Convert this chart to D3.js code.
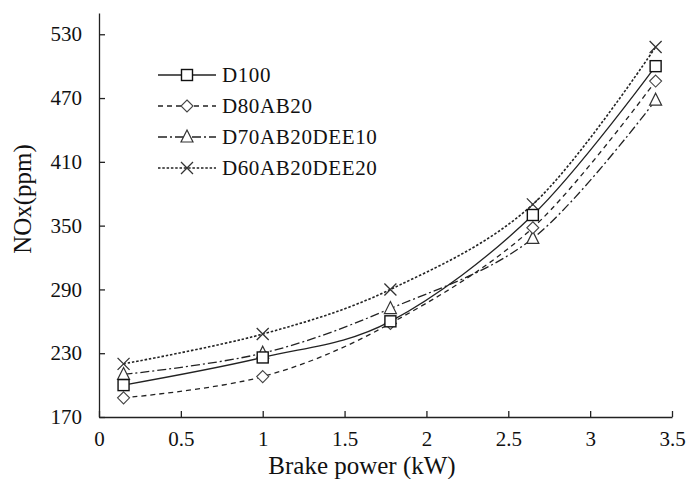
<!DOCTYPE html>
<html>
<head>
<meta charset="utf-8">
<script src="https://cdn.jsdelivr.net/npm/d3@7"></script>
<style>
  body { margin: 0; background: #fff; }
  text { font-family: "Liberation Serif", "Times New Roman", serif; fill: #111; }
</style>
</head>
<body>
<svg class="chart"></svg>
<script>
// brake power points (kW)
var power = [0.15, 1.0, 1.78, 2.65, 3.4];

// NOx (ppm) per blend
var d100 = [200, 226, 260, 360, 500];
var d80ab20 = [188, 208, 258, 348, 486];
var d70ab20dee10 = [210, 230, 272, 338, 468];
var d60ab20dee20 = [220, 248, 290, 370, 518];

var xTicks = [0, 0.5, 1, 1.5, 2, 2.5, 3, 3.5];
var yTicks = [170, 230, 290, 350, 410, 470, 530];

var series = [
  {name: "D100", values: d100, dash: null, marker: "square"},
  {name: "D80AB20", values: d80ab20, dash: "5,4", marker: "diamond"},
  {name: "D70AB20DEE10", values: d70ab20dee10, dash: "9,3,2,3", marker: "triangle"},
  {name: "D60AB20DEE20", values: d60ab20dee20, dash: "2.5,1.8", marker: "cross"}
];

var width = 688, height = 479;
var margin = {top: 13, right: 16, bottom: 62, left: 99};

var x = d3.scaleLinear()
    .domain([0, 3.5])
    .range([margin.left, width - margin.right]);

var y = d3.scaleLinear()
    .domain([170, 550])
    .range([height - margin.bottom, margin.top]);

var chart = d3.select(".chart")
    .attr("width", width)
    .attr("height", height);

// axes with inside ticks
chart.append("g")
    .attr("transform", "translate(0," + y(170) + ")")
    .call(d3.axisBottom(x).tickValues(xTicks).tickSize(-6).tickSizeOuter(0).tickPadding(14)
      .tickFormat(d => d))
    .call(g => g.selectAll("text").style("font-size", "21px"))
    .call(g => g.selectAll("line, path").attr("stroke", "#222").attr("stroke-width", 1.3));

chart.append("g")
    .attr("transform", "translate(" + x(0) + ",0)")
    .call(d3.axisLeft(y).tickValues(yTicks).tickSize(-6).tickSizeOuter(0).tickPadding(17))
    .call(g => g.selectAll("text").style("font-size", "21px"))
    .call(g => g.selectAll("line, path").attr("stroke", "#222").attr("stroke-width", 1.3));

chart.append("text")
    .attr("x", 362)
    .attr("y", 474)
    .attr("text-anchor", "middle")
    .style("font-size", "25px")
    .text("Brake power (kW)");

chart.append("text")
    .attr("transform", "translate(31,199) rotate(-90)")
    .attr("text-anchor", "middle")
    .style("font-size", "25px")
    .text("NOx(ppm)");

var line = d3.line()
    .x((d, i) => x(power[i]))
    .y(d => y(d))
    .curve(d3.curveCatmullRom.alpha(0));

function drawMarker(g, type, cx, cy) {
  var s = 5.5;
  if (type == "square") {
    g.append("rect").attr("x", cx - s).attr("y", cy - s).attr("width", 2 * s).attr("height", 2 * s)
      .attr("fill", "#fff").attr("stroke", "#111").attr("stroke-width", 1.4);
  } else if (type == "diamond") {
    g.append("path").attr("d", "M" + cx + "," + (cy - 6) + "L" + (cx + 6) + "," + cy + "L" + cx + "," + (cy + 6) + "L" + (cx - 6) + "," + cy + "Z")
      .attr("fill", "#fff").attr("stroke", "#444").attr("stroke-width", 1.1);
  } else if (type == "triangle") {
    g.append("path").attr("d", "M" + cx + "," + (cy - 7) + "L" + (cx + 6) + "," + (cy + 5) + "L" + (cx - 6) + "," + (cy + 5) + "Z")
      .attr("fill", "#fff").attr("stroke", "#333").attr("stroke-width", 1.2);
  } else {
    g.append("path").attr("d", "M" + (cx - 6) + "," + (cy - 6) + "L" + (cx + 6) + "," + (cy + 6) + "M" + (cx + 6) + "," + (cy - 6) + "L" + (cx - 6) + "," + (cy + 6))
      .attr("fill", "none").attr("stroke", "#333").attr("stroke-width", 1.3);
  }
}

// lines first, then markers on top
series.forEach(function(s) {
  chart.append("path")
    .datum(s.values)
    .attr("d", line)
    .attr("fill", "none")
    .attr("stroke", "#222")
    .attr("stroke-width", s.dash == "2.5,1.8" ? 1.6 : 1.3)
    .attr("stroke-dasharray", s.dash);
});

series.slice().reverse().forEach(function(s) {
  var g = chart.append("g");
  s.values.forEach(function(v, i) { drawMarker(g, s.marker, x(power[i]), y(v)); });
});

// legend
var legend = chart.append("g");
series.forEach(function(s, i) {
  var ly = 75 + i * 31;
  legend.append("line")
    .attr("x1", 158).attr("x2", 216).attr("y1", ly).attr("y2", ly)
    .attr("stroke", "#222")
    .attr("stroke-width", s.dash == "2.5,1.8" ? 1.6 : 1.3)
    .attr("stroke-dasharray", s.dash);
  drawMarker(legend, s.marker, 187, ly);
  legend.append("text")
    .attr("x", 222).attr("y", ly)
    .attr("dy", "0.35em")
    .style("font-size", "21px")
    .style("letter-spacing", "0.6px")
    .text(s.name);
});
</script>
</body>
</html>
